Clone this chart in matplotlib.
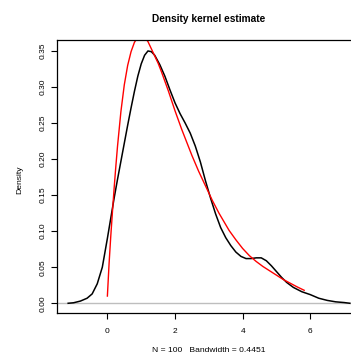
import matplotlib
matplotlib.use("Agg")
import matplotlib.pyplot as plt

plt.rcParams["font.family"] = ["Liberation Sans", "DejaVu Sans"]

# kernel density estimate (black)
kde_x = [-1.16, -1.0, -0.8, -0.6, -0.45, -0.3, -0.15, 0.0, 0.1, 0.2, 0.3,
         0.4, 0.5, 0.6, 0.7, 0.8, 0.9, 1.0, 1.1, 1.2, 1.3, 1.4, 1.55, 1.7,
         1.85, 2.0, 2.15, 2.3, 2.45, 2.6, 2.75, 2.9, 3.05, 3.2, 3.35, 3.5,
         3.65, 3.8, 3.95, 4.1, 4.25, 4.4, 4.55, 4.7, 4.85, 5.0, 5.15, 5.3,
         5.5, 5.75, 6.0, 6.25, 6.5, 6.75, 7.0, 7.17]
kde_y = [0.000, 0.0007, 0.003, 0.007, 0.013, 0.027, 0.050, 0.090, 0.118, 0.146, 0.172,
         0.197, 0.222, 0.247, 0.271, 0.294, 0.315, 0.332, 0.344, 0.350, 0.349, 0.344, 0.331, 0.315,
         0.296, 0.278, 0.263, 0.250, 0.236, 0.218, 0.196, 0.170, 0.146, 0.124, 0.105, 0.091,
         0.080, 0.071, 0.065, 0.062, 0.062, 0.063, 0.063, 0.059, 0.052, 0.044, 0.036, 0.029,
         0.022, 0.016, 0.012, 0.007, 0.004, 0.002, 0.001, 0.000]

# fitted density (red)
fit_x = [0.0, 0.05, 0.1, 0.15, 0.2, 0.25, 0.3, 0.4, 0.5, 0.6, 0.7, 0.8,
         0.9, 1.0, 1.1, 1.2, 1.3, 1.4, 1.5, 1.6, 1.7, 1.8, 1.9, 2.0, 2.1,
         2.2, 2.3, 2.4, 2.5, 2.6, 2.7, 2.8, 2.9, 3.0, 3.1, 3.2, 3.3, 3.4,
         3.5, 3.6, 3.8, 4.0, 4.2, 4.4, 4.6, 4.8, 5.0, 5.2, 5.4, 5.6, 5.82]
fit_y = [0.010, 0.055, 0.093, 0.127, 0.160, 0.190, 0.218, 0.266, 0.303, 0.330, 0.349, 0.362,
         0.369, 0.371, 0.369, 0.363, 0.353, 0.343, 0.333, 0.321, 0.308, 0.295, 0.281, 0.267, 0.254,
         0.241, 0.229, 0.217, 0.205, 0.194, 0.183, 0.173, 0.163, 0.153, 0.143, 0.134, 0.125, 0.117,
         0.109, 0.101, 0.088, 0.076, 0.066, 0.058, 0.051, 0.045, 0.039, 0.033, 0.028, 0.023, 0.018]

x_ticks = [0, 2, 4, 6]
y_ticks = [0.00, 0.05, 0.10, 0.15, 0.20, 0.25, 0.30, 0.35]

W, H = 351, 354
fig = plt.figure(figsize=(W / 100, H / 100), dpi=100)
# the box runs past the right edge of the picture, as in the original
ax = fig.add_axes([57 / W, 41 / H, 304 / W, 273 / H])

ax.axhline(0, color="#BEBEBE", lw=1.0)
ax.plot(kde_x, kde_y, color="black", lw=1.1)
ax.plot(fit_x, fit_y, color="red", lw=1.0)

ax.set_xlim(-1.49, 7.5)
ax.set_ylim(-0.0135, 0.3652)
ax.set_xticks(x_ticks)
ax.set_xticklabels([str(t) for t in x_ticks])
ax.set_yticks(y_ticks)
ax.set_yticklabels([f"{t:.2f}" for t in y_ticks], rotation=90, va="center")
ax.tick_params(direction="out", length=4, width=0.8, labelsize=6, color="black")
ax.tick_params(axis="x", pad=6.5)
ax.tick_params(axis="y", pad=3.5)
for s in ax.spines.values():
    s.set_linewidth(0.9)

fig.text(209 / W, 1 - 19 / H, "Density kernel estimate", ha="center", va="center",
         fontsize=7.3, fontweight="bold")
fig.text(209 / W, 1 - 350 / H, "N = 100   Bandwidth = 0.4451", ha="center",
         va="center", fontsize=6.1)
fig.text(20 / W, 1 - 180 / H, "Density", ha="center", va="center",
         rotation=90, fontsize=6.1)

fig.savefig("out.png", dpi=100)
